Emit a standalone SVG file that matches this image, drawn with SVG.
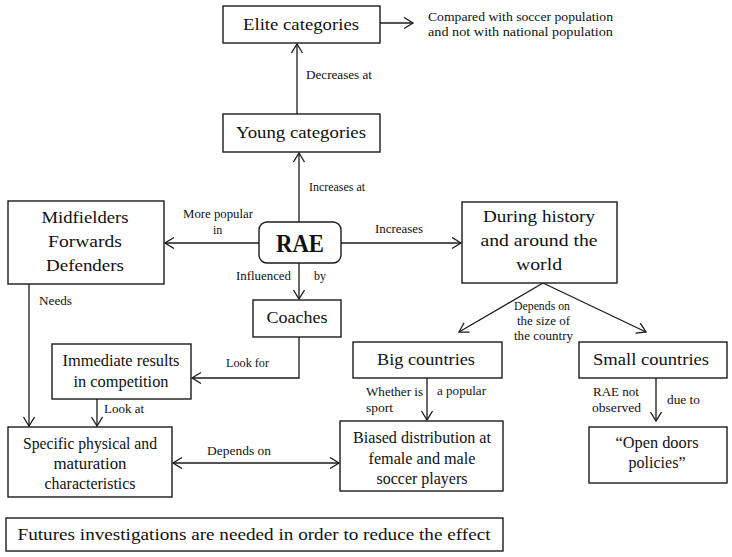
<svg xmlns="http://www.w3.org/2000/svg" width="732" height="557" viewBox="0 0 732 557">
<defs>
<style>
.box{fill:#fff;stroke:#1a1a1a;stroke-width:1.4}
.t{font-family:'Liberation Serif','DejaVu Serif',serif;font-size:17px;fill:#111;text-anchor:middle}
.s{font-family:'Liberation Serif','DejaVu Serif',serif;font-size:12px;fill:#111}
.c{fill:none;stroke:#1a1a1a;stroke-width:1.3}
</style>
<marker id="ah" markerUnits="userSpaceOnUse" markerWidth="14" markerHeight="14" refX="10" refY="6" orient="auto-start-reverse">
<path d="M1,0.5 L10,6 L1,11.5" fill="none" stroke="#1a1a1a" stroke-width="1.3"/>
</marker>
</defs>
<rect width="732" height="557" fill="#fff"/>

<g id="connectors">
<line class="c" x1="380" y1="23" x2="413" y2="23" marker-end="url(#ah)"/>
<line class="c" x1="297" y1="114" x2="297" y2="44" marker-end="url(#ah)"/>
<line class="c" x1="299" y1="222" x2="299" y2="153" marker-end="url(#ah)"/>
<line class="c" x1="259" y1="243" x2="165" y2="243" marker-end="url(#ah)"/>
<line class="c" x1="341" y1="243" x2="461" y2="243" marker-end="url(#ah)"/>
<line class="c" x1="299" y1="263" x2="299" y2="299" marker-end="url(#ah)"/>
<polyline class="c" points="299,337 299,378 192,378" marker-end="url(#ah)"/>
<line class="c" x1="29" y1="284" x2="29" y2="426" marker-end="url(#ah)"/>
<line class="c" x1="97" y1="399" x2="97" y2="426" marker-end="url(#ah)"/>
<line class="c" x1="173" y1="463" x2="339" y2="463" marker-start="url(#ah)" marker-end="url(#ah)"/>
<line class="c" x1="543" y1="283" x2="459" y2="332" marker-end="url(#ah)"/>
<line class="c" x1="543" y1="283" x2="646" y2="332" marker-end="url(#ah)"/>
<line class="c" x1="427" y1="378" x2="427" y2="420" marker-end="url(#ah)"/>
<line class="c" x1="656" y1="378" x2="656" y2="421" marker-end="url(#ah)"/>
</g>

<g id="labels" font-family="Liberation Serif, DejaVu Serif, serif">
<text class="s" x="428" y="21" textLength="185" lengthAdjust="spacingAndGlyphs">Compared with soccer population</text>
<text class="s" x="428" y="36" textLength="185" lengthAdjust="spacingAndGlyphs">and not with national population</text>
<text class="s" x="306" y="79" textLength="66" lengthAdjust="spacingAndGlyphs">Decreases at</text>
<text class="s" x="309" y="191" textLength="56" lengthAdjust="spacingAndGlyphs">Increases at</text>
<text class="s" x="183" y="218" textLength="70" lengthAdjust="spacingAndGlyphs">More popular</text>
<text class="s" x="213" y="234">in</text>
<text class="s" x="375" y="233" textLength="48" lengthAdjust="spacingAndGlyphs">Increases</text>
<text class="s" x="236" y="280" textLength="55" lengthAdjust="spacingAndGlyphs">Influenced</text>
<text class="s" x="314" y="280">by</text>
<text class="s" x="514" y="310" textLength="56" lengthAdjust="spacingAndGlyphs">Depends on</text>
<text class="s" x="517" y="325" textLength="53" lengthAdjust="spacingAndGlyphs">the size of</text>
<text class="s" x="514" y="340" textLength="59" lengthAdjust="spacingAndGlyphs">the country</text>
<text class="s" x="39" y="305" textLength="33" lengthAdjust="spacingAndGlyphs">Needs</text>
<text class="s" x="226" y="367" textLength="43" lengthAdjust="spacingAndGlyphs">Look for</text>
<text class="s" x="104" y="413" textLength="40" lengthAdjust="spacingAndGlyphs">Look at</text>
<text class="s" x="207" y="455" textLength="64" lengthAdjust="spacingAndGlyphs">Depends on</text>
<text class="s" x="366" y="396" textLength="57" lengthAdjust="spacingAndGlyphs">Whether is</text>
<text class="s" x="366" y="412" textLength="27" lengthAdjust="spacingAndGlyphs">sport</text>
<text class="s" x="437" y="395" textLength="49" lengthAdjust="spacingAndGlyphs">a popular</text>
<text class="s" x="593" y="396" textLength="46" lengthAdjust="spacingAndGlyphs">RAE not</text>
<text class="s" x="592" y="412" textLength="49" lengthAdjust="spacingAndGlyphs">observed</text>
<text class="s" x="667" y="404" textLength="33" lengthAdjust="spacingAndGlyphs">due to</text>
</g>

<g id="elite">
<rect class="box" x="223" y="6" width="157" height="37"/>
<text class="t" x="301" y="30" textLength="116" lengthAdjust="spacingAndGlyphs">Elite categories</text>
</g>
<g id="young">
<rect class="box" x="223" y="114" width="157" height="38"/>
<text class="t" x="301" y="138" textLength="130" lengthAdjust="spacingAndGlyphs">Young categories</text>
</g>
<g id="rae">
<rect class="box" x="259" y="222" width="82" height="41" rx="8"/>
<text class="t" x="300" y="252" style="font-size:25px;font-weight:bold" textLength="48" lengthAdjust="spacingAndGlyphs">RAE</text>
</g>
<g id="positions">
<rect class="box" x="8" y="201" width="156" height="83"/>
<text class="t" x="85" y="223" textLength="87" lengthAdjust="spacingAndGlyphs">Midfielders</text>
<text class="t" x="85" y="247" textLength="74" lengthAdjust="spacingAndGlyphs">Forwards</text>
<text class="t" x="85" y="271" textLength="78" lengthAdjust="spacingAndGlyphs">Defenders</text>
</g>
<g id="history">
<rect class="box" x="462" y="202" width="155" height="81"/>
<text class="t" x="539" y="222" textLength="112" lengthAdjust="spacingAndGlyphs">During history</text>
<text class="t" x="539" y="246" textLength="117" lengthAdjust="spacingAndGlyphs">and around the</text>
<text class="t" x="539" y="270" textLength="46" lengthAdjust="spacingAndGlyphs">world</text>
</g>
<g id="coaches">
<rect class="box" x="253" y="300" width="88" height="37"/>
<text class="t" x="297" y="323" textLength="61" lengthAdjust="spacingAndGlyphs">Coaches</text>
</g>
<g id="immediate">
<rect class="box" x="52" y="344" width="139" height="55"/>
<text class="t" x="121" y="366" textLength="117" lengthAdjust="spacingAndGlyphs">Immediate results</text>
<text class="t" x="121" y="387" textLength="95" lengthAdjust="spacingAndGlyphs">in competition</text>
</g>
<g id="specific">
<rect class="box" x="8" y="427" width="164" height="70"/>
<text class="t" x="90" y="449" textLength="134" lengthAdjust="spacingAndGlyphs">Specific physical and</text>
<text class="t" x="90" y="469" textLength="73" lengthAdjust="spacingAndGlyphs">maturation</text>
<text class="t" x="90" y="489" textLength="91" lengthAdjust="spacingAndGlyphs">characteristics</text>
</g>
<g id="big">
<rect class="box" x="353" y="342" width="149" height="36"/>
<text class="t" x="426" y="365" textLength="98" lengthAdjust="spacingAndGlyphs">Big countries</text>
</g>
<g id="small">
<rect class="box" x="579" y="342" width="148" height="36"/>
<text class="t" x="651" y="365" textLength="116" lengthAdjust="spacingAndGlyphs">Small countries</text>
</g>
<g id="biased">
<rect class="box" x="340" y="421" width="163" height="70"/>
<text class="t" x="422" y="443" textLength="138" lengthAdjust="spacingAndGlyphs">Biased distribution at</text>
<text class="t" x="422" y="464" textLength="107" lengthAdjust="spacingAndGlyphs">female and male</text>
<text class="t" x="422" y="484" textLength="91" lengthAdjust="spacingAndGlyphs">soccer players</text>
</g>
<g id="opendoors">
<rect class="box" x="589" y="427" width="138" height="56"/>
<text class="t" x="657" y="448" textLength="83" lengthAdjust="spacingAndGlyphs">“Open doors</text>
<text class="t" x="657" y="468" textLength="57" lengthAdjust="spacingAndGlyphs">policies”</text>
</g>
<g id="future">
<rect class="box" x="6" y="518" width="497" height="33"/>
<text class="t" x="254" y="540" textLength="473" lengthAdjust="spacingAndGlyphs">Futures investigations are needed in order to reduce the effect</text>
</g>
</svg>
